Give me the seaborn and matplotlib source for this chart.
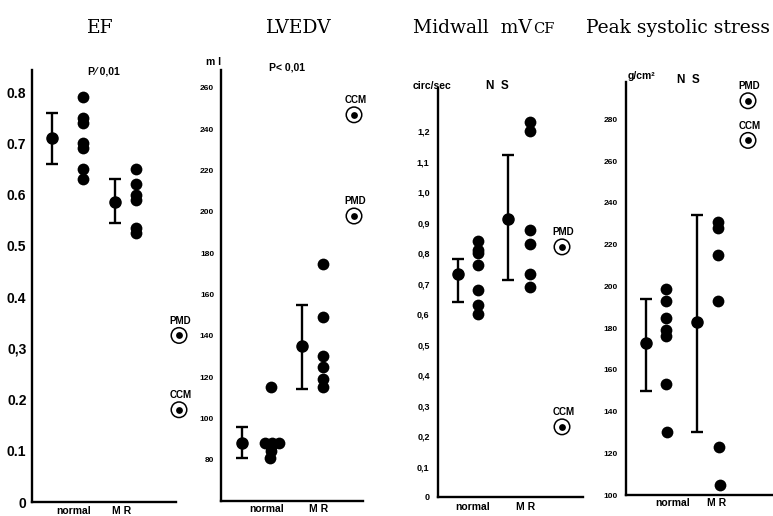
import numpy as np
import pandas as pd
import matplotlib
matplotlib.use("Agg")
import matplotlib.pyplot as plt
import seaborn as sns

# ---------------- data ----------------
titles = ["EF", "LVEDV", "Midwall  mV", "Peak systolic stress"]
title_small = ["", "", "CF", ""]

ef_normal = [0.79, 0.75, 0.74, 0.70, 0.69, 0.65, 0.63]
ef_mr = [0.65, 0.62, 0.60, 0.59, 0.535, 0.525]
ef_mean = [0.71, 0.585]
ef_lo = [0.66, 0.545]
ef_hi = [0.76, 0.63]
ef_special = [0.325, 0.18]

lv_normal = [115, 88, 88, 88, 86, 84, 81]
lv_mr = [175, 149, 130, 125, 119, 115]
lv_mean = [88, 135]
lv_lo = [81, 114]
lv_hi = [96, 155]
lv_special = [198, 247]

vcf_normal = [0.84, 0.81, 0.80, 0.76, 0.68, 0.63, 0.60]
vcf_mr = [1.23, 1.20, 0.875, 0.83, 0.73, 0.69]
vcf_mean = [0.73, 0.91]
vcf_lo = [0.64, 0.71]
vcf_hi = [0.78, 1.12]
vcf_special = [0.82, 0.23]

st_normal = [199, 193, 185, 179, 176, 153, 130]
st_mr = [231, 228, 215, 193, 123, 105]
st_mean = [173, 183]
st_lo = [150, 130]
st_hi = [194, 234]
st_special = [289, 270]

special_labels = ["PMD", "CCM"]
group_labels = ["normal", "M R"]
stat_labels = ["P\u2044 0,01", "P< 0,01", "N  S", "N  S"]
unit_labels = ["", "m l", "circ/sec", "g/cm\u00b2"]

ef_ticks = [0, 0.1, 0.2, 0.3, 0.4, 0.5, 0.6, 0.7, 0.8]
ef_ticklabels = ["0", "0.1", "0.2", "0,3", "0.4", "0.5", "0.6", "0.7", "0.8"]
lv_ticks = [80, 100, 120, 140, 160, 180, 200, 220, 240, 260]
vcf_ticks = [0, 0.1, 0.2, 0.3, 0.4, 0.5, 0.6, 0.7, 0.8, 0.9, 1.0, 1.1, 1.2]
vcf_ticklabels = ["0", "0,1", "0,2", "0,3", "0,4", "0,5", "0,6", "0,7", "0,8", "0,9", "1,0", "1,1", "1,2"]
st_ticks = [100, 120, 140, 160, 180, 200, 220, 240, 260, 280]

# ---------------- layout (pixels) ----------------
W, H = 773, 516
sns.set_theme(style="white")
plt.rcParams["font.family"] = ["Liberation Sans", "DejaVu Sans"]

fig = plt.figure(figsize=(W / 100, H / 100), dpi=100)
fig.patch.set_facecolor("white")


def fx(x):
    return x / W


def fy(y):
    return 1 - y / H


panels = [
    dict(left=32, right=176, top=70, bottom=502, ylim=(0, 0.843),
         normal=ef_normal, mr=ef_mr, mean=ef_mean, lo=ef_lo, hi=ef_hi, special=ef_special,
         ticks=ef_ticks, ticklabels=ef_ticklabels, tickfs=10, tickpad=4,
         xpos=[20, 51, 83, 104, 147], lab_x=[42, 90], lab_y=510.5,
         normal_jit=[0, 0, 0, 0, 0, 0, 0], mr_jit=[0, 0, 0, 0, 0, 0],
         title_x=100, stat_xy=(104, 72), unit_xy=None),
    dict(left=221, right=363, top=70, bottom=501, ylim=(60, 268.7),
         normal=lv_normal, mr=lv_mr, mean=lv_mean, lo=lv_lo, hi=lv_hi, special=lv_special,
         ticks=lv_ticks, ticklabels=[str(t) for t in lv_ticks], tickfs=6, tickpad=5,
         xpos=[21, 50, 81, 102, 133], lab_x=[46, 98], lab_y=509.5,
         normal_jit=[0, -6, 1, 8, 0, 0, -1], mr_jit=[0, 0, 0, 0, 0, 0],
         title_x=299, stat_xy=(287, 67), unit_xy=(214, 62)),
    dict(left=438, right=583, top=88.3, bottom=497, ylim=(0, 1.34),
         normal=vcf_normal, mr=vcf_mr, mean=vcf_mean, lo=vcf_lo, hi=vcf_hi, special=vcf_special,
         ticks=vcf_ticks, ticklabels=vcf_ticklabels, tickfs=6.5, tickpad=6,
         xpos=[20, 40, 70, 92, 124], lab_x=[35, 88], lab_y=507,
         normal_jit=[0, 0, 0, 0, 0, 0, 0], mr_jit=[0, 0, 0, 0, 0, 0],
         title_x=413, stat_xy=(497, 86), unit_xy=(432, 86)),
    dict(left=626, right=773, top=82, bottom=495, ylim=(100, 298),
         normal=st_normal, mr=st_mr, mean=st_mean, lo=st_lo, hi=st_hi, special=st_special,
         ticks=st_ticks, ticklabels=[str(t) for t in st_ticks], tickfs=6, tickpad=6,
         xpos=[20, 40, 71, 92, 122], lab_x=[47, 91], lab_y=503,
         normal_jit=[0, 0, 0, 0, 0, 0, 1], mr_jit=[0, 0, 0, 0, 1, 2],
         title_x=678, stat_xy=(688, 80), unit_xy=(641, 76)),
]

serif = ["DejaVu Serif"]
renderer = fig.canvas.get_renderer()

for i, p in enumerate(panels):
    ax = fig.add_axes([fx(p["left"]), fy(p["bottom"]),
                       fx(p["right"] - p["left"]), (p["bottom"] - p["top"]) / H])
    ax.set_facecolor("white")
    width = p["right"] - p["left"]
    ax.set_xlim(0, width)
    ax.set_ylim(*p["ylim"])
    for s in ["top", "right"]:
        ax.spines[s].set_visible(False)
    for s in ["left", "bottom"]:
        ax.spines[s].set_color("black")
        ax.spines[s].set_linewidth(1.7)
    ax.set_xticks([])
    ax.set_yticks(p["ticks"])
    ax.set_yticklabels(p["ticklabels"], fontsize=p["tickfs"], fontweight="bold", color="black")
    ax.tick_params(axis="y", length=0, pad=p["tickpad"])
    ax.grid(False)

    xm_n, xd_n, xm_m, xd_m, xs = p["xpos"]
    df = pd.DataFrame({
        "x": [xd_n + j for j in p["normal_jit"]] + [xd_m + j for j in p["mr_jit"]],
        "y": p["normal"] + p["mr"],
    })
    sns.scatterplot(data=df, x="x", y="y", ax=ax, color="black", s=72,
                    linewidth=0, legend=False, clip_on=False)

    means = np.array(p["mean"])
    lo = np.array(p["lo"])
    hi = np.array(p["hi"])
    ax.errorbar([xm_n, xm_m], means, yerr=[means - lo, hi - means], fmt="o",
                color="black", ms=8, capsize=4, elinewidth=1.7, capthick=1.7)

    sdf = pd.DataFrame({"x": [xs, xs], "y": p["special"], "lab": special_labels})
    sns.scatterplot(data=sdf, x="x", y="y", ax=ax, s=125, facecolor="none",
                    edgecolor="black", linewidth=1.1, legend=False, clip_on=False)
    sns.scatterplot(data=sdf, x="x", y="y", ax=ax, color="black", s=24,
                    linewidth=0, legend=False, clip_on=False)
    for _, r in sdf.iterrows():
        ax.annotate(r["lab"], (r["x"], r["y"]), xytext=(1, 7), textcoords="offset points",
                    ha="center", va="bottom", fontsize=7, fontweight="bold", color="black",
                    annotation_clip=False)
    ax.set_xlabel("")
    ax.set_ylabel("")

    for lab, lx in zip(group_labels, p["lab_x"]):
        fig.text(fx(p["left"] + lx), fy(p["lab_y"]), lab, ha="center", va="center",
                 fontsize=7.5, fontweight="bold", color="black")

    if title_small[i]:
        t1 = fig.text(fx(p["title_x"]), fy(33), titles[i], ha="left", va="baseline",
                      fontsize=13.5, family=serif, color="black")
        bb = t1.get_window_extent(renderer=renderer)
        fig.text(bb.x1 / W + fx(1), fy(33), title_small[i], ha="left", va="baseline",
                 fontsize=10.5, family=serif, color="black")
    else:
        fig.text(fx(p["title_x"]), fy(33), titles[i], ha="center", va="baseline",
                 fontsize=13.5, family=serif, color="black")
    fig.text(fx(p["stat_xy"][0]), fy(p["stat_xy"][1]), stat_labels[i], ha="center",
             va="center", fontsize=8.5 if i >= 2 else 7.5, fontweight="bold", color="black")
    if p["unit_xy"] is not None:
        fig.text(fx(p["unit_xy"][0]), fy(p["unit_xy"][1]), unit_labels[i], ha="center",
                 va="center", fontsize=7.5, fontweight="bold", color="black")

fig.savefig("out.png", dpi=100, facecolor="white")
